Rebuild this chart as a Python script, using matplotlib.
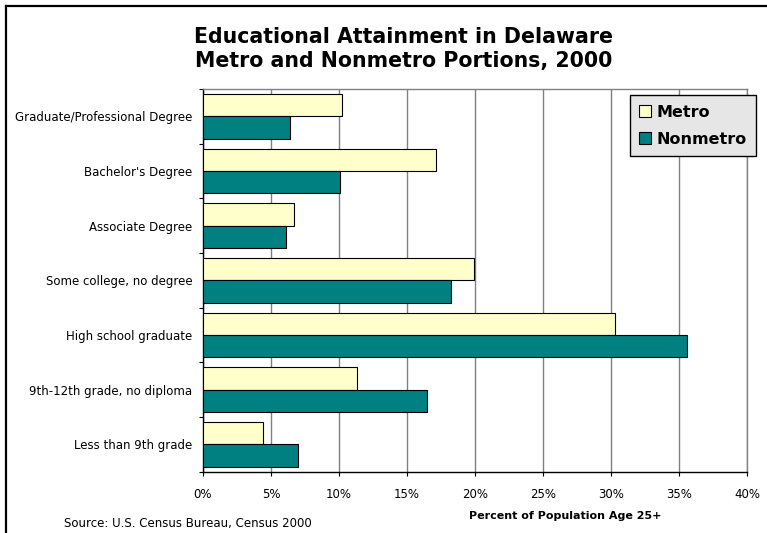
import numpy as np
import matplotlib.pyplot as plt
from matplotlib.patches import Patch
from matplotlib.lines import Line2D

# Data (percent of population age 25+)
categories = ["Graduate/Professional Degree", "Bachelor's Degree", "Associate Degree",
              "Some college, no degree", "High school graduate",
              "9th-12th grade, no diploma", "Less than 9th grade"]
metro = [10.2, 17.1, 6.7, 19.9, 30.3, 11.3, 4.4]
nonmetro = [6.4, 10.1, 6.1, 18.2, 35.6, 16.5, 7.0]
series_names = ["Metro", "Nonmetro"]
xticks = np.arange(0, 41, 5)
xtick_labels = ["%d%%" % v for v in xticks]

metro_color = "#FFFFCC"
nonmetro_color = "#008080"
grid_color = "#808080"

plt.rcParams['font.family'] = ['DejaVu Sans']

fig = plt.figure(figsize=(7.67, 5.33), dpi=100)
ax = fig.add_axes([203 / 767, 1 - 471.7 / 533, 544 / 767, 382.7 / 533])

y = np.arange(len(categories))
h = 0.41
ax.barh(y - h / 2, metro, height=h, color=metro_color, edgecolor="black",
        linewidth=0.8, zorder=3)
ax.barh(y + h / 2, nonmetro, height=h, color=nonmetro_color, edgecolor="black",
        linewidth=0.8, zorder=3)

ax.set_xlim(0, 40)
ax.set_ylim(len(categories) - 0.5, -0.5)

# x axis: gridlines at each 5%
ax.set_xticks(xticks)
ax.set_xticklabels(xtick_labels, fontsize=8.5)
ax.tick_params(axis="x", direction="out", length=3, width=0.8, pad=8.5, color="black")
ax.xaxis.grid(True, color=grid_color, linewidth=1.0, zorder=0)

# y axis: tick marks at category boundaries, labels at centres
ax.set_yticks(np.arange(-0.5, len(categories), 1.0))
ax.set_yticklabels([])
ax.tick_params(axis="y", which="major", direction="out", length=3, width=0.8)
ax.set_yticks(y, minor=True)
ax.set_yticklabels(categories, minor=True, fontsize=8.5)
ax.tick_params(axis="y", which="minor", length=0, pad=7.5)

for s in ["top", "right"]:
    ax.spines[s].set_color(grid_color)
    ax.spines[s].set_linewidth(1.0)
for s in ["left", "bottom"]:
    ax.spines[s].set_color("black")
    ax.spines[s].set_linewidth(1.0)
ax.set_axisbelow(True)

# titles and notes
fig.text(404 / 767, 1 - 49 / 533, "Educational Attainment in Delaware\nMetro and Nonmetro Portions, 2000",
         ha="center", va="center", fontsize=14.8, fontweight="bold", linespacing=1.3)
fig.text(565.5 / 767, 1 - 516 / 533, "Percent of Population Age 25+",
         ha="center", va="center", fontsize=8, fontweight="bold")
fig.text(64 / 767, 1 - 524 / 533, "Source: U.S. Census Bureau, Census 2000",
         ha="left", va="center", fontsize=8.5)

# legend
handles = [Patch(facecolor=metro_color, edgecolor="black", linewidth=0.8),
           Patch(facecolor=nonmetro_color, edgecolor="black", linewidth=0.8)]
leg = fig.legend(handles, series_names, loc="upper right",
                 bbox_to_anchor=(756 / 767, 1 - 95 / 533),
                 prop={"size": 11.5, "weight": "bold"}, fancybox=False,
                 frameon=True, handlelength=0.75, handleheight=0.75,
                 handletextpad=0.3, labelspacing=0.75, borderpad=0.6,
                 borderaxespad=0)
leg.get_frame().set_facecolor("#E6E6E6")
leg.get_frame().set_edgecolor("black")
leg.get_frame().set_linewidth(1.0)
leg.get_frame().set_alpha(1)

# outer frame (left and top edges visible)
fig.add_artist(Line2D([6 / 767, 6 / 767], [0, 1 - 6 / 533], transform=fig.transFigure,
                      color="black", linewidth=1.6))
fig.add_artist(Line2D([6 / 767, 1], [1 - 6 / 533, 1 - 6 / 533], transform=fig.transFigure,
                      color="black", linewidth=1.6))

fig.savefig("out.png", dpi=100)
